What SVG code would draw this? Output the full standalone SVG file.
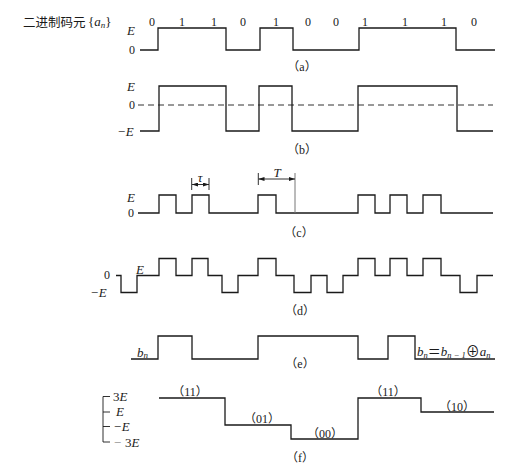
<svg xmlns="http://www.w3.org/2000/svg" width="524" height="466" viewBox="0 0 524 466">
<defs>
<style>
.w{fill:none;stroke:#1a1a1a;stroke-width:1.3}
.thin{fill:none;stroke:#1a1a1a;stroke-width:0.9}
.gray{fill:none;stroke:#777;stroke-width:1}
.dash{fill:none;stroke:#333;stroke-width:1;stroke-dasharray:6,4}
text{font-family:"Liberation Serif","Noto Sans CJK SC",serif;fill:#1a1a1a}
.num{font-size:12px}
.it{font-style:italic;font-size:13px}
.cap{font-size:12px;text-anchor:middle}
.cjk{font-family:"Noto Sans CJK SC",sans-serif;font-size:12.5px}
</style>
<marker id="ar" viewBox="0 0 6 4" refX="6" refY="2" markerWidth="6" markerHeight="4" markerUnits="userSpaceOnUse" orient="auto-start-reverse">
<path d="M0,0 L6,2 L0,4 Z" fill="#1a1a1a"/>
</marker>
</defs>
<rect width="524" height="466" fill="#fff"/>

<g id="title">
<text x="23" y="26.5" class="cjk">二进制码元</text>
<text x="88" y="26" font-size="13px">{<tspan font-style="italic">a</tspan><tspan font-style="italic" font-size="9px" dy="2">n</tspan><tspan dy="-2">}</tspan></text>
</g>

<g id="panel-a">
<g class="num" text-anchor="middle">
<text x="152" y="25.5">0</text><text x="182" y="25.5">1</text><text x="214" y="25.5">1</text><text x="243" y="25.5">0</text>
<text x="276" y="25.5">1</text><text x="308" y="25.5">0</text><text x="336" y="25.5">0</text><text x="365" y="25.5">1</text>
<text x="405" y="25.5">1</text><text x="444" y="25.5">1</text><text x="474" y="25.5">0</text>
</g>
<text x="127" y="35" class="it">E</text>
<text x="129" y="54" class="num">0</text>
<path class="w" d="M140,50 H158 V28 H226 V50 H260 V28 H293 V50 H359 V28 H456 V50 H495"/>
<text x="302" y="71" class="cap">（a）</text>
</g>

<g id="panel-b">
<text x="127" y="90.5" class="it">E</text>
<text x="129" y="109" class="num">0</text>
<text x="117" y="135.5" class="it">−E</text>
<path class="dash" d="M138,105 H493"/>
<path class="w" d="M140,131 H159 V86 H226 V131 H259 V86 H292 V131 H358 V86 H457 V131 H493"/>
<text x="302" y="154" class="cap">（b）</text>
</g>

<g id="panel-c">
<text x="127" y="202" class="it">E</text>
<text x="128" y="217" class="num">0</text>
<path class="w" d="M138,213 H159 V195 H176 V213 H192 V195 H209 V213 H258 V195 H276 V213 H358 V195 H375 V213 H390 V195 H407 V213 H423 V195 H441 V213 H493"/>
<path class="thin" d="M191.7,178 V190 M209,178 V190 M258.3,173 V185"/>
<path class="gray" d="M295,173 V213"/>
<path class="thin" d="M192,184.5 H209" marker-start="url(#ar)" marker-end="url(#ar)"/>
<path class="thin" d="M258.5,179 H295" marker-start="url(#ar)" marker-end="url(#ar)"/>
<text x="200" y="181.5" class="it" font-size="12px" text-anchor="middle">τ</text>
<text x="277" y="177" class="it" text-anchor="middle">T</text>
<text x="299" y="237" class="cap">（c）</text>
</g>

<g id="panel-d">
<text x="104" y="279" class="num" font-size="11px">0</text>
<text x="90" y="296.5" class="it">−E</text>
<text x="136" y="274" class="it">E</text>
<path class="w" d="M116,275.5 H121 V292.5 H137 V275.5 H159 V258.5 H176 V275.5 H192 V258.5 H208 V275.5 H222 V292.5 H238 V275.5 H258 V258.5 H276 V275.5 H294 V292.5 H311 V275.5 H327 V292.5 H343 V275.5 H358 V258.5 H375 V275.5 H390 V258.5 H407 V275.5 H423 V258.5 H441 V275.5 H460 V292.5 H477 V275.5 H493"/>
<text x="300" y="315" class="cap">（d）</text>
</g>

<g id="panel-e">
<text x="137" y="356.5" class="it">b<tspan font-size="9px" dy="1.5">n</tspan></text>
<path class="w" d="M131,359 H158 V336 H192 V359 H258 V336 H358 V359 H388 V336 H415 V359 H495"/>
<text x="417" y="356" class="it" font-size="12.5px">b<tspan font-size="8.5px" dy="1.5">n</tspan><tspan dy="-1.5" font-style="normal">＝</tspan>b<tspan font-size="8.5px" dy="1.5">n − 1</tspan><tspan dy="-1.5" font-style="normal" font-size="14px">⊕</tspan>a<tspan font-size="8.5px" dy="1.5">n</tspan></text>
<text x="300" y="368" class="cap">（e）</text>
</g>

<g id="panel-f">
<path class="thin" d="M110,396.5 H103 V442 H110 M103,412 H110 M103,426.5 H110"/>
<text x="113" y="400.5" class="it"><tspan font-style="normal">3</tspan>E</text>
<text x="116" y="416" class="it">E</text>
<text x="113" y="431" class="it">−E</text>
<text x="113" y="446.5" class="it"><tspan fill="#888">−</tspan> <tspan font-style="normal">3</tspan>E</text>
<path class="w" d="M159,398 H225 V425 H291 V439 H358 V398 H421 V412 H494"/>
<g class="cap">
<text x="190" y="395.5">（11）</text>
<text x="262" y="423">（01）</text>
<text x="325" y="438">（00）</text>
<text x="388" y="395.5">（11）</text>
<text x="457" y="411">（10）</text>
</g>
<text x="300" y="462" class="cap">（f）</text>
</g>
</svg>
